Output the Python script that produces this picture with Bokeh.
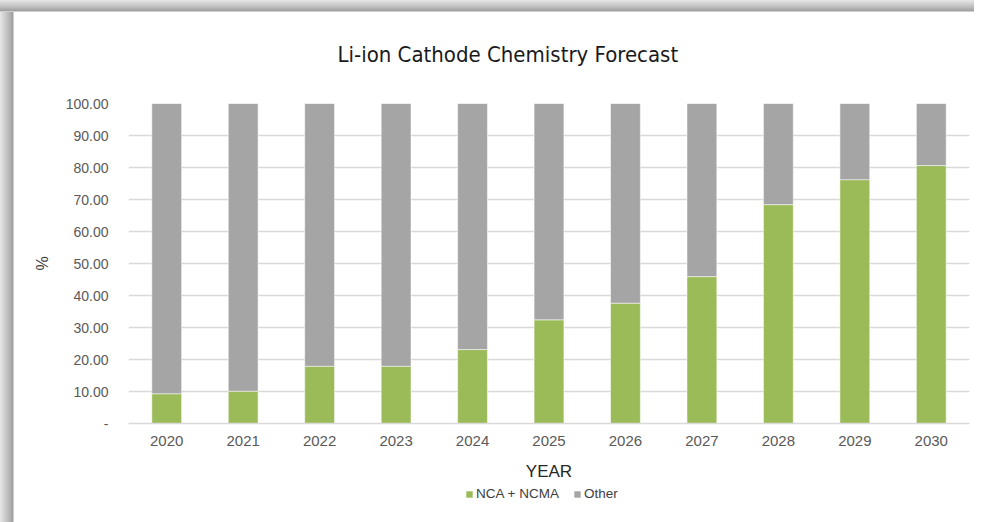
from bokeh.plotting import figure
from bokeh.layouts import column
from bokeh.models import Legend, LegendItem, FactorRange, Range1d, FixedTicker, CustomJSTickFormatter
from bokeh.embed import file_html
from bokeh.resources import INLINE

# ---- data ----
years = ["2020", "2021", "2022", "2023", "2024", "2025", "2026", "2027", "2028", "2029", "2030"]
nca_ncma = [9.3, 10.1, 17.9, 17.9, 23.1, 32.4, 37.6, 45.9, 68.4, 76.2, 80.6]
other = [90.7, 89.9, 82.1, 82.1, 76.9, 67.6, 62.4, 54.1, 31.6, 23.8, 19.4]
series_names = ["NCA + NCMA", "Other"]
y_ticks = [0, 10, 20, 30, 40, 50, 60, 70, 80, 90, 100]

GREEN = "#9BBB59"
GREY = "#A5A5A5"
NARROW = "DejaVu Sans Condensed"
SANS = "Liberation Sans"

TOP_BAND = "linear-gradient(to bottom, #e6e6e6 0px, #bdbdbd 7px, #9e9e9e 11px, #ffffff 12px) top left / 100% 12px no-repeat, "
LEFT_BAND = "linear-gradient(to right, #e6e6e6 0px, #bdbdbd 8px, #9e9e9e 13px, #ffffff 14px) top left / 14px 100% no-repeat, "

fig = figure(
    frame_width=841, frame_height=320,
    x_range=FactorRange(*years),
    y_range=Range1d(0, 100),
    output_backend="svg", toolbar_location=None,
    min_border_left=128, min_border_right=5,
    min_border_top=103, min_border_bottom=57,
)
fig.x_range.range_padding = 0
fig.border_fill_color = None
fig.background_fill_color = "white"
fig.styles = {"background": TOP_BAND + LEFT_BAND + "#ffffff"}

src = {"year": years, "nca": nca_ncma, "other": other}
fig.vbar_stack(["nca", "other"], x="year", width=0.39, source=src,
               fill_color=[GREEN, GREY], line_color="white", line_alpha=0.5, line_width=1)

# title
fig.title.text = "Li-ion Cathode Chemistry Forecast"
fig.title.align = "left"
fig.title.vertical_align = "bottom"
fig.title.offset = 209
fig.title.standoff = 74
fig.title.text_font = NARROW
fig.title.text_font_size = "22px"
fig.title.text_font_style = "normal"
fig.title.text_color = "#1a1a1a"

# axes
fig.yaxis.ticker = FixedTicker(ticks=y_ticks)
fig.yaxis.formatter = CustomJSTickFormatter(code="return tick == 0 ? '-' : tick.toFixed(2);")
fig.yaxis.axis_line_color = None
fig.yaxis.major_tick_line_color = None
fig.yaxis.minor_tick_line_color = None
fig.yaxis.major_label_text_font = SANS
fig.yaxis.major_label_text_font_size = "14px"
fig.yaxis.major_label_text_color = "#595959"
fig.yaxis.major_label_standoff = 14
fig.yaxis.axis_label = "%"
fig.yaxis.axis_label_text_font = SANS
fig.yaxis.axis_label_text_font_size = "16px"
fig.yaxis.axis_label_text_font_style = "normal"
fig.yaxis.axis_label_text_color = "#404040"
fig.yaxis.axis_label_standoff = 12

fig.xaxis.axis_line_color = "#d9d9d9"
fig.xaxis.axis_line_width = 1.5
fig.xaxis.major_tick_line_color = None
fig.xaxis.minor_tick_line_color = None
fig.xaxis.major_label_text_font = SANS
fig.xaxis.major_label_text_font_size = "15px"
fig.xaxis.major_label_text_color = "#595959"
fig.xaxis.major_label_standoff = 6
fig.xaxis.axis_label = "YEAR"
fig.xaxis.axis_label_text_font = SANS
fig.xaxis.axis_label_text_font_size = "17px"
fig.xaxis.axis_label_text_font_style = "normal"
fig.xaxis.axis_label_text_color = "#262626"
fig.xaxis.axis_label_standoff = 13

fig.xgrid.grid_line_color = None
fig.ygrid.grid_line_color = "#d9d9d9"
fig.ygrid.grid_line_width = 1.5
fig.outline_line_color = None

# legend strip (own small figure below the chart)
leg_fig = figure(
    width=974, height=42,
    x_range=FactorRange(*years), y_range=Range1d(1000, 1001),
    output_backend="svg", toolbar_location=None,
    x_axis_location=None, y_axis_location=None, min_border=0,
)
leg_fig.title.visible = False
leg_fig.xgrid.visible = False
leg_fig.ygrid.visible = False
leg_fig.outline_line_color = None
leg_fig.border_fill_color = None
leg_fig.background_fill_color = None
leg_fig.styles = {"background": LEFT_BAND + "#ffffff"}

lrs = leg_fig.vbar_stack(["nca", "other"], x="year", width=0.39, source=dict(src),
                         fill_color=[GREEN, GREY], line_color=None)

legend = Legend(items=[LegendItem(label=series_names[0], renderers=[lrs[0]]),
                       LegendItem(label=series_names[1], renderers=[lrs[1]])],
                orientation="horizontal", location=(337, 24),
                margin=0, padding=6, spacing=14,
                glyph_width=8, glyph_height=8, label_standoff=3,
                label_text_font=SANS, label_text_font_size="13.5px", label_text_color="#404040",
                border_line_color=None, background_fill_alpha=0)
leg_fig.add_layout(legend)

p = column(fig, leg_fig, spacing=0)

open("out.html", "w").write(file_html(p, INLINE))
